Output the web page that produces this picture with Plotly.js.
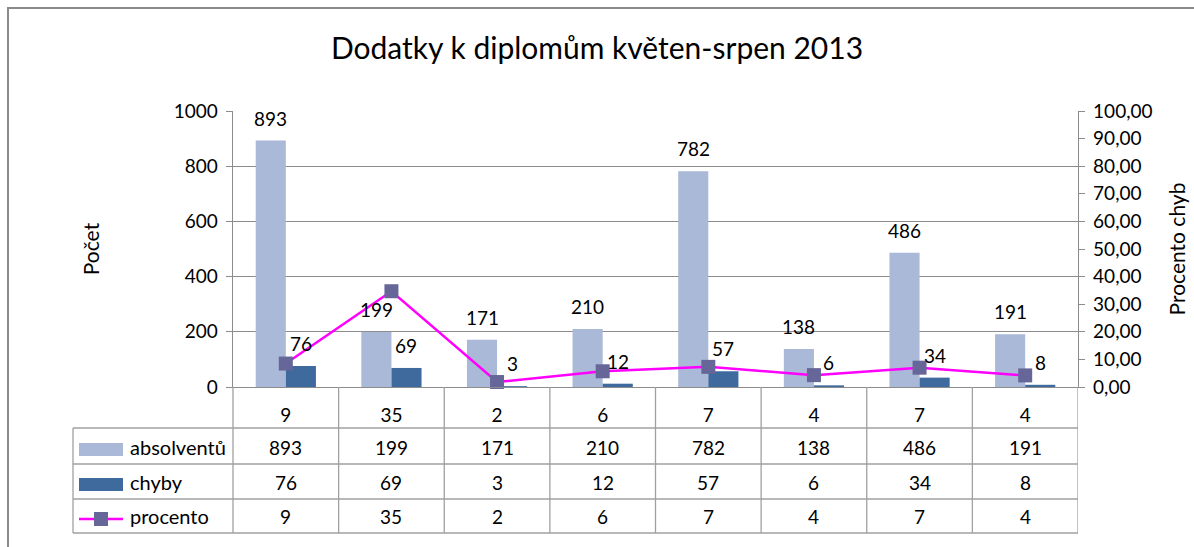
<!DOCTYPE html>
<html>
<head>
<meta charset="utf-8">
<script src="https://cdn.plot.ly/plotly-3.0.1.min.js"></script>
<style>
html,body{margin:0;padding:0;background:#fff;}
#chart{width:1194px;height:547px;}
</style>
</head>
<body>
<div id="chart"></div>
<script>
// ---- data ----
const categoryLabels = ['9', '35', '2', '6', '7', '4', '7', '4'];
const absolventu = [893, 199, 171, 210, 782, 138, 486, 191];
const chyby = [76, 69, 3, 12, 57, 6, 34, 8];
const procento = [8.5, 34.7, 1.8, 5.7, 7.3, 4.3, 7.0, 4.2];
const procentoLabels = ['9', '35', '2', '6', '7', '4', '7', '4'];
const seriesNames = ['absolventů', 'chyby', 'procento'];

// ---- layout constants (pixels) ----
const W = 1194, H = 547;
const PL = 233, PR = 1078, PT = 111, PB = 387;
const pw = PR - PL, ph = PB - PT;
const px = x => (x - PL) / pw;
const py = y => (PB - y) / ph;

const FONT = 'Lato, "Open Sans", sans-serif';
const LIGHT = '#A9B9D7';
const DARK = '#3F6A9D';
const LINE = '#FF00FF';
const MARK = '#666699';
const GRID = '#8C8C8C';
const TXT = '#000000';

const idx = categoryLabels.map((_, i) => i);
const barW = 0.285;

const traces = [
  {
    type: 'bar', name: seriesNames[0], x: idx, y: absolventu,
    width: barW, offset: -barW, marker: {color: LIGHT}, hoverinfo: 'y'
  },
  {
    type: 'bar', name: seriesNames[1], x: idx, y: chyby,
    width: barW, offset: 0, marker: {color: DARK}, hoverinfo: 'y'
  },
  {
    type: 'scatter', mode: 'lines+markers', name: seriesNames[2], x: idx, y: procento,
    yaxis: 'y2', line: {color: LINE, width: 2.5},
    marker: {symbol: 'square', size: 14, color: MARK}, cliponaxis: false
  }
];

const annotations = [];
// bar data labels
idx.forEach(i => {
  annotations.push({x: i - barW / 2, y: absolventu[i], xref: 'x', yref: 'y', text: String(absolventu[i]),
    showarrow: false, yanchor: 'bottom', yshift: 9, font: {family: FONT, size: 19, color: TXT}});
  annotations.push({x: i + barW / 2, y: chyby[i], xref: 'x', yref: 'y', text: String(chyby[i]),
    showarrow: false, yanchor: 'bottom', yshift: 9, font: {family: FONT, size: 19, color: TXT}});
});

// data table rows
const rowCenters = [447, 482, 516];
const rowValues = [absolventu.map(String), chyby.map(String), procentoLabels];
rowValues.forEach((vals, r) => {
  vals.forEach((v, i) => {
    annotations.push({x: i, y: py(rowCenters[r]), xref: 'x', yref: 'paper', text: v,
      showarrow: false, yanchor: 'middle', font: {family: FONT, size: 19, color: TXT}});
  });
  annotations.push({x: px(128), y: py(rowCenters[r]), xref: 'paper', yref: 'paper', text: seriesNames[r],
    showarrow: false, xanchor: 'left', yanchor: 'middle', font: {family: FONT, size: 20, color: TXT}});
});

const shapes = [];
const lineStyle = {color: '#A0A0A0', width: 1.3};
// outer chart border
shapes.push({type: 'rect', xref: 'paper', yref: 'paper', x0: px(8), x1: px(1210), y0: py(8), y1: py(560),
  line: {color: '#8A8A8A', width: 2}, fillcolor: 'rgba(0,0,0,0)', layer: 'below'});
// table horizontal lines
[428, 464, 499, 533].forEach(y => {
  shapes.push({type: 'line', xref: 'paper', yref: 'paper', x0: px(73), x1: 1, y0: py(y), y1: py(y), line: lineStyle});
});
// table vertical lines
shapes.push({type: 'line', xref: 'paper', yref: 'paper', x0: px(73), x1: px(73), y0: py(428), y1: py(533), line: lineStyle});
shapes.push({type: 'line', xref: 'paper', yref: 'paper', x0: 0, x1: 0, y0: 0, y1: py(533), line: lineStyle});
for (let i = 0; i < categoryLabels.length; i++) {
  shapes.push({type: 'line', xref: 'x', yref: 'paper', x0: i + 0.5, x1: i + 0.5, y0: 0, y1: py(533), line: lineStyle});
}
// legend keys in table
shapes.push({type: 'rect', xref: 'paper', yref: 'paper', x0: px(79), x1: px(123), y0: py(443), y1: py(456),
  line: {width: 0}, fillcolor: LIGHT});
shapes.push({type: 'rect', xref: 'paper', yref: 'paper', x0: px(79), x1: px(123), y0: py(478), y1: py(491),
  line: {width: 0}, fillcolor: DARK});
shapes.push({type: 'line', xref: 'paper', yref: 'paper', x0: px(79), x1: px(123), y0: py(519), y1: py(519),
  line: {color: LINE, width: 2.5}});
shapes.push({type: 'rect', xref: 'paper', yref: 'paper', x0: px(94), x1: px(108), y0: py(512), y1: py(526),
  line: {width: 0}, fillcolor: MARK});

const layout = {
  width: W, height: H,
  margin: {l: PL, r: W - PR, t: PT, b: H - PB, pad: 0},
  paper_bgcolor: '#ffffff', plot_bgcolor: '#ffffff',
  separators: ',.',
  showlegend: false,
  barmode: 'overlay',
  font: {family: FONT, size: 19, color: TXT},
  title: {text: 'Dodatky k diplomům květen-srpen 2013', x: 0.5, xref: 'container', xanchor: 'center',
    y: 1 - 48 / H, yref: 'container', yanchor: 'middle', font: {family: FONT, size: 30, color: TXT}},
  xaxis: {
    range: [-0.5, categoryLabels.length - 0.5], tickvals: idx, ticktext: categoryLabels,
    showgrid: false, zeroline: false, showline: true, linecolor: GRID, linewidth: 1.3,
    ticks: '', ticklabelstandoff: 11, tickfont: {family: FONT, size: 19, color: TXT}, fixedrange: true
  },
  yaxis: {
    range: [0, 1000], dtick: 200, tick0: 0, showgrid: true, gridcolor: GRID, gridwidth: 1.3,
    zeroline: false, showline: true, linecolor: GRID, linewidth: 1.3, ticks: 'outside', ticklen: 6, tickcolor: GRID,
    ticklabelstandoff: 4,
    tickfont: {family: FONT, size: 19, color: TXT},
    title: {text: 'Počet', standoff: 68, font: {family: FONT, size: 21, color: TXT}}, fixedrange: true
  },
  yaxis2: {
    overlaying: 'y', side: 'right', range: [0, 100], dtick: 10, tick0: 0, tickformat: '.2f',
    showgrid: false, zeroline: false, showline: true, linecolor: GRID, linewidth: 1.3,
    ticks: 'outside', ticklen: 6, tickcolor: GRID, ticklabelstandoff: 4,
    tickfont: {family: FONT, size: 19, color: TXT},
    title: {text: 'Procento chyb', standoff: 18, font: {family: FONT, size: 21, color: TXT}}, fixedrange: true
  },
  annotations: annotations,
  shapes: shapes
};

Plotly.newPlot('chart', traces, layout, {displayModeBar: false, staticPlot: true});
</script>
</body>
</html>
